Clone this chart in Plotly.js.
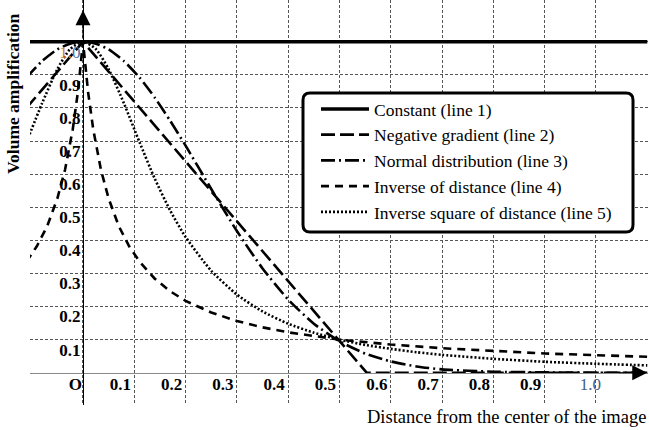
<!DOCTYPE html>
<html>
<head>
<meta charset="utf-8">
<script src="https://cdn.plot.ly/plotly-3.0.1.min.js"></script>
<style>html,body{margin:0;padding:0;background:#fff;}#chart{width:649px;height:430px;}</style>
</head>
<body>
<div id="chart"></div>
<script>
// ---- data ----
const seriesNames = [
  "Constant (line 1)",
  "Negative gradient (line 2)",
  "Normal distribution (line 3)",
  "Inverse of distance (line 4)",
  "Inverse square of distance (line 5)"
];
const line1X = [-0.11, 1.1];
const line1Y = [1.0, 1.0];
const line2X = [-0.11, 0, 0.553, 1.1];
const line2Y = [0.80, 1.0, 0, 0];
const curveX = [-0.11,-0.08,-0.05,-0.025,0,0.025,0.05,0.08,0.11,0.14,0.17,0.2,0.25,0.3,0.35,0.4,0.45,0.5,0.55,0.6,0.65,0.7,0.8,0.9,1.0,1.1];
const line3Y = [0.892,0.941,0.977,0.994,1,0.994,0.977,0.941,0.892,0.831,0.761,0.686,0.555,0.428,0.315,0.221,0.148,0.095,0.058,0.034,0.019,0.010,0.003,0.001,0,0];
const line5Y = [0.697,0.813,0.917,0.978,1,0.978,0.917,0.813,0.697,0.586,0.490,0.410,0.308,0.236,0.185,0.148,0.121,0.100,0.084,0.072,0.062,0.054,0.042,0.033,0.027,0.022];
const line4X = [-0.11,-0.09,-0.07,-0.05,-0.035,-0.02,-0.01,0,0.01,0.02,0.035,0.05,0.07,0.09,0.11,0.14,0.17,0.2,0.25,0.3,0.35,0.4,0.5,0.6,0.7,0.8,0.9,1.0,1.1];
const line4Y = [0.336,0.382,0.442,0.526,0.613,0.735,0.847,1,0.847,0.735,0.613,0.526,0.442,0.382,0.336,0.284,0.246,0.217,0.182,0.156,0.137,0.122,0.100,0.085,0.074,0.065,0.058,0.053,0.048];

const xTickVals = [0,0.1,0.2,0.3,0.4,0.5,0.6,0.7,0.8,0.9,1.0];
const xTickText = ["\u00a0\u00a0\u00a0O","0.1","0.2","0.3","0.4","0.5","0.6","0.7","0.8","0.9",
  '\u00a0\u00a0\u00a0\u00a0<span style="color:#3f5d86;font-weight:normal">1.0</span>'];
const yTickVals = [0.1,0.2,0.3,0.4,0.5,0.6,0.7,0.8,0.9,1.0];
const yTickText = ["0.1","0.2","0.3","0.4","0.5","0.6","0.7","0.8","0.9",
  '<span style="font-weight:normal"><span style="color:#c98535">1.</span><span style="color:#4a72a8">0</span></span>'];
const xTitle = "Distance from the center of the image";
const yTitle = "Volume amplification";

// ---- layout ----
const serif = "Liberation Serif, Times New Roman, serif";
const xRange = [-0.1033, 1.1014];
const yRange = [-0.0976, 1.126];
const xPos = (0 - yRange[0]) / (yRange[1] - yRange[0]);
const yPos = (0 - xRange[0]) / (xRange[1] - xRange[0]);

const traces = [
  {x: line1X, y: line1Y, name: seriesNames[0], mode: "lines", line: {color: "#000", width: 3.5}},
  {x: line2X, y: line2Y, name: seriesNames[1], mode: "lines", line: {color: "#000", width: 2.6, dash: "14px,5px"}},
  {x: curveX, y: line3Y, name: seriesNames[2], mode: "lines", line: {color: "#000", width: 2.6, dash: "14px,4px,2px,4px", shape: "spline", smoothing: 0.6}},
  {x: line4X, y: line4Y, name: seriesNames[3], mode: "lines", line: {color: "#000", width: 2.6, dash: "8px,6px"}},
  {x: curveX, y: line5Y, name: seriesNames[4], mode: "lines", line: {color: "#000", width: 2.6, dash: "2px,2px", shape: "spline", smoothing: 0.6}}
];

// legend box (pixels -> paper)
const L = 30, T = 0, PW = 618, PH = 405;
const px = v => (v - L) / PW;
const py = v => (T + PH - v) / PH;
const bx0 = 303, bx1 = 633, by0 = 93, by1 = 232, r = 7;
const boxPath = `M${px(bx0+r)},${py(by0)} L${px(bx1-r)},${py(by0)} Q${px(bx1)},${py(by0)} ${px(bx1)},${py(by0+r)} ` +
  `L${px(bx1)},${py(by1-r)} Q${px(bx1)},${py(by1)} ${px(bx1-r)},${py(by1)} L${px(bx0+r)},${py(by1)} ` +
  `Q${px(bx0)},${py(by1)} ${px(bx0)},${py(by1-r)} L${px(bx0)},${py(by0+r)} Q${px(bx0)},${py(by0)} ${px(bx0+r)},${py(by0)} Z`;

const layout = {
  width: 649, height: 430,
  margin: {l: L, r: 1, t: T, b: 25, pad: 0},
  paper_bgcolor: "#fff", plot_bgcolor: "#fff",
  font: {family: serif, color: "#000"},
  showlegend: true,
  legend: {
    x: px(316), y: py(91), xanchor: "left", yanchor: "top",
    bgcolor: "rgba(0,0,0,0)", borderwidth: 0,
    font: {family: serif, size: 17.5, color: "#000"},
    itemwidth: 48, tracegroupgap: 0
  },
  xaxis: {
    range: xRange, anchor: "free", position: xPos,
    showline: true, linecolor: "#8a8a8a", linewidth: 1.5,
    showgrid: true, gridcolor: "#555", gridwidth: 1, griddash: "3px,2px",
    zeroline: false, ticks: "",
    tickmode: "array", tickvals: xTickVals, ticktext: xTickText,
    tickfont: {family: serif, size: 17, weight: "bold", color: "#000"},
    ticklabelshift: -14, ticklabelstandoff: -5
  },
  yaxis: {
    range: yRange, anchor: "free", position: yPos,
    showline: true, linecolor: "#000", linewidth: 1,
    showgrid: true, gridcolor: "#555", gridwidth: 1, griddash: "3px,2px",
    zeroline: false, ticks: "",
    tickmode: "array", tickvals: yTickVals, ticktext: yTickText,
    tickfont: {family: serif, size: 17, weight: "bold", color: "#000"},
    ticklabelshift: 10, ticklabelstandoff: -1
  },
  shapes: [
    {type: "path", xref: "paper", yref: "paper", path: boxPath,
     line: {color: "#000", width: 3}, fillcolor: "#fff", layer: "above"}
  ],
  annotations: [
    {xref: "paper", yref: "paper", x: px(13) , y: py(94), text: yTitle, showarrow: false,
     textangle: -90, font: {family: serif, size: 17.5, weight: "bold", color: "#000"}, xanchor: "center", yanchor: "middle"},
    {xref: "paper", yref: "paper", x: 1, y: py(417), text: xTitle, showarrow: false,
     font: {family: serif, size: 18.5, color: "#000"}, xanchor: "right", yanchor: "middle"},
    {xref: "x", yref: "y", x: 0, y: 1.095, ax: 0, ay: 30, text: "", showarrow: true,
     arrowhead: 2, arrowsize: 3, arrowwidth: 1, arrowcolor: "#000"},
    {xref: "x", yref: "y", x: 1.1, y: 0, ax: -30, ay: 0, text: "", showarrow: true,
     arrowhead: 2, arrowsize: 3, arrowwidth: 1, arrowcolor: "#000"}
  ]
};

Plotly.newPlot("chart", traces, layout, {staticPlot: true, displayModeBar: false});
</script>
</body>
</html>
